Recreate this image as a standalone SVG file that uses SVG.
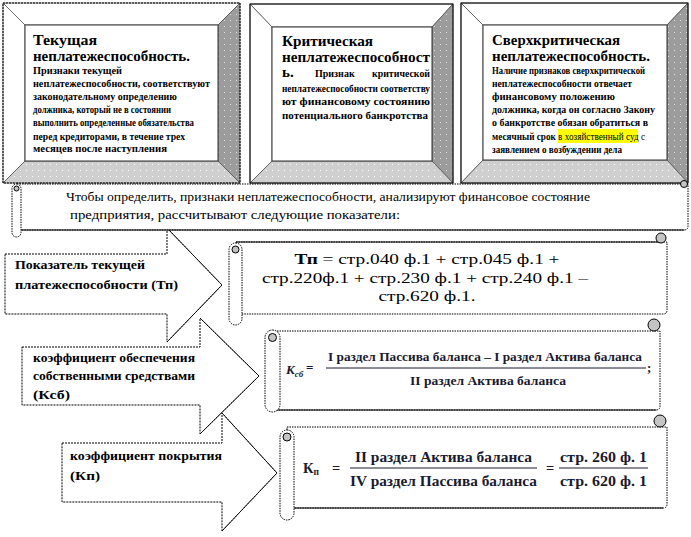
<svg xmlns="http://www.w3.org/2000/svg" width="691" height="537" viewBox="0 0 691 537">
<defs>
<pattern id="dl" width="6" height="6" patternUnits="userSpaceOnUse"><rect width="6" height="6" fill="#cfcfcf"/><rect x="2" y="2" width="1" height="1" fill="#fff"/></pattern>
<pattern id="dd" width="6" height="6" patternUnits="userSpaceOnUse"><rect width="6" height="6" fill="#9c9c9c"/><rect x="2" y="2" width="1" height="1" fill="#e0e0e0"/></pattern>
<style>
text{font-family:"Liberation Serif","Times New Roman",serif;fill:#000}
.t{font-size:15px;font-weight:bold}
.b{font-size:10px;font-weight:bold}
.lt{fill:#fff;stroke:#555;stroke-width:0.8}
.rt{fill:url(#dd);stroke:#555;stroke-width:0.8}
.bt{fill:url(#dl);stroke:#555;stroke-width:0.8}
.in{fill:#fff;stroke:#333;stroke-width:1}
.out{fill:none;stroke:#000;stroke-width:1}
.arr{fill:#fff;stroke:#000;stroke-width:1;stroke-dasharray:2,1}
.sd{fill:#fff;stroke:#000;stroke-width:1;stroke-dasharray:1.5,1}
.cu{fill:#c4c4c4;stroke:#000;stroke-width:1}
.at{font-size:12px;font-weight:bold}
.f{font-size:13px;font-weight:bold;fill:#1a1a30}
.g{font-size:14.5px;fill:#1a1a30;font-weight:bold}
</style>
</defs>

<g id="box1">
<polygon class="lt" points="3,3 240,3 218,25 25,25"/>
<polygon class="lt" points="3,3 25,25 25,161 3,183"/>
<polygon class="rt" points="240,3 240,183 218,161 218,25"/>
<polygon class="bt" points="3,183 25,161 218,161 240,183"/>
<rect class="in" x="25" y="25" width="193" height="136"/>
<rect class="out" x="3" y="3" width="237" height="180" stroke-dasharray="2,1"/>
<text class="t" x="33" y="45" textLength="64" lengthAdjust="spacingAndGlyphs">Текущая</text>
<text class="t" x="33" y="61" textLength="157" lengthAdjust="spacingAndGlyphs">неплатежеспособность.</text>
<text class="b" x="33" y="74" textLength="89" lengthAdjust="spacingAndGlyphs">Признаки текущей</text>
<text class="b" x="33" y="87" textLength="177" lengthAdjust="spacingAndGlyphs">неплатежеспособности, соответствуют</text>
<text class="b" x="33" y="100" textLength="144" lengthAdjust="spacingAndGlyphs">законодательному определению</text>
<text class="b" x="33" y="113" textLength="138" lengthAdjust="spacingAndGlyphs">должника, который не в состоянии</text>
<text class="b" x="33" y="126" textLength="161" lengthAdjust="spacingAndGlyphs">выполнить определенные обязательства</text>
<text class="b" x="33" y="140" textLength="152" lengthAdjust="spacingAndGlyphs">перед кредиторами, в течение трех</text>
<text class="b" x="33" y="152" textLength="134" lengthAdjust="spacingAndGlyphs">месяцев после наступления</text>
</g>

<g id="box2">
<polygon class="lt" points="250,4 453,4 432,27 272,27"/>
<polygon class="lt" points="250,4 272,27 272,161 250,183"/>
<polygon class="rt" points="453,4 453,183 432,161 432,27"/>
<polygon class="bt" points="250,183 272,161 432,161 453,183"/>
<rect class="in" x="272" y="27" width="160" height="134"/>
<rect class="out" x="250" y="4" width="203" height="179"/>
<text class="t" x="282" y="46" textLength="91" lengthAdjust="spacingAndGlyphs">Критическая</text>
<text class="t" x="282" y="62" textLength="148" lengthAdjust="spacingAndGlyphs">неплатежеспособност</text>
<text class="t" x="282" y="77" font-size="13">ь.</text>
<text class="b" x="315" y="77">Признак</text>
<text class="b" x="372" y="77" textLength="58" lengthAdjust="spacingAndGlyphs">критической</text>
<text class="b" x="282" y="92" textLength="148" lengthAdjust="spacingAndGlyphs">неплатежеспособности соответству</text>
<text class="b" x="282" y="105" textLength="148" lengthAdjust="spacingAndGlyphs">ют  финансовому  состоянию</text>
<text class="b" x="282" y="119" textLength="146" lengthAdjust="spacingAndGlyphs">потенциального банкротства</text>
</g>

<g id="box3">
<polygon class="lt" points="461,3 688,3 667,25 483,25"/>
<polygon class="lt" points="461,3 483,25 483,160 461,183"/>
<polygon class="rt" points="688,3 688,183 667,160 667,25"/>
<polygon class="bt" points="461,183 483,160 667,160 688,183"/>
<rect class="in" x="483" y="25" width="184" height="135"/>
<rect class="out" x="461" y="3" width="227" height="180"/>
<text class="t" x="492" y="45" textLength="128" lengthAdjust="spacingAndGlyphs">Сверхкритическая</text>
<text class="t" x="492" y="61" textLength="158" lengthAdjust="spacingAndGlyphs">неплатежеспособность.</text>
<text class="b" x="492" y="74" textLength="153" lengthAdjust="spacingAndGlyphs">Наличие признаков сверхкритической</text>
<text class="b" x="492" y="87" textLength="140" lengthAdjust="spacingAndGlyphs">неплатежеспособности  отвечает</text>
<text class="b" x="492" y="100" textLength="123" lengthAdjust="spacingAndGlyphs">финансовому положению</text>
<text class="b" x="492" y="113" textLength="163" lengthAdjust="spacingAndGlyphs">должника,  когда он согласно Закону</text>
<text class="b" x="492" y="126" textLength="156" lengthAdjust="spacingAndGlyphs">о банкротстве обязан обратиться в</text>
<rect x="558" y="129" width="80" height="14" fill="#ffff00"/>
<text class="b" x="492" y="140" textLength="153" lengthAdjust="spacingAndGlyphs">месячный срок <tspan font-weight="normal">в хозяйственный суд с</tspan></text>
<text class="b" x="492" y="153" textLength="130" lengthAdjust="spacingAndGlyphs">заявлением о возбуждении дела</text>
</g>

<g id="arrows">
<g id="arrow1">
<polygon class="arr" points="5,254 167,254 167,228 222,285 167,342 167,314 5,314"/>
<polyline points="167,228 222,285 167,342" fill="none" stroke="#000" stroke-width="0.8"/>
<text class="at" x="15" y="269" textLength="130" lengthAdjust="spacingAndGlyphs">Показатель текущей</text>
<text class="at" x="15" y="289" textLength="163" lengthAdjust="spacingAndGlyphs">платежеспособности (Тп)</text>
</g>
<g id="arrow2">
<polygon class="arr" points="22,347 200,347 200,318 259,376 200,434 200,405 22,405"/>
<polyline points="200,318 259,376 200,434" fill="none" stroke="#000" stroke-width="0.8"/>
<text class="at" x="33" y="362" textLength="162" lengthAdjust="spacingAndGlyphs">коэффициент   обеспечения</text>
<text class="at" x="33" y="380" textLength="162" lengthAdjust="spacingAndGlyphs">собственными средствами</text>
<text class="at" x="33" y="399" textLength="37" lengthAdjust="spacingAndGlyphs">(Ксб)</text>
</g>
<g id="arrow3">
<polygon class="arr" points="62,443 222,443 222,413 277,473 222,531 222,502 62,502"/>
<polyline points="222,413 277,473 222,531" fill="none" stroke="#000" stroke-width="0.8"/>
<text class="at" x="70" y="460" textLength="152" lengthAdjust="spacingAndGlyphs">коэффициент   покрытия</text>
<text class="at" x="70" y="480" textLength="30" lengthAdjust="spacingAndGlyphs">(Кп)</text>
</g>
</g>

<g id="scroll1">
<path class="sd" d="M17,184 L688,184 L688,226 Q688,230 684,230 L17,230 Z"/>
<line x1="17" y1="230" x2="684" y2="230" stroke="#000" stroke-width="1"/>
<rect class="sd" x="12" y="184" width="9" height="53" rx="4.5"/>
<circle class="cu" cx="16.5" cy="188.5" r="2.5"/>
<circle class="cu" cx="684" cy="184" r="3.5"/>
<text x="66" y="201" font-size="13.5" textLength="524" lengthAdjust="spacingAndGlyphs">Чтобы определить, признаки неплатежеспособности, анализируют финансовое  состояние</text>
<text x="70" y="219" font-size="13.5" textLength="330" lengthAdjust="spacingAndGlyphs">предприятия,  рассчитывают следующие показатели:</text>
</g>

<g id="scroll2">
<path class="sd" d="M236,242 L667,242 L667,310 Q667,314 663,314 L236,314 Z"/>
<line x1="236" y1="242" x2="661" y2="242" stroke="#000"/>
<rect class="sd" x="229" y="243" width="13" height="82" rx="6.5"/>
<circle class="cu" cx="235.5" cy="249.5" r="3.5"/>
<circle class="cu" cx="661" cy="238" r="5"/>
<text x="427" y="264" font-size="15.5" text-anchor="middle" textLength="265" lengthAdjust="spacingAndGlyphs"><tspan font-weight="bold">Тп</tspan> = стр.040 ф.1 + стр.045 ф.1 +</text>
<text x="425" y="283" font-size="15.5" text-anchor="middle" textLength="326" lengthAdjust="spacingAndGlyphs">стр.220ф.1 + стр.230 ф.1 + стр.240 ф.1 –</text>
<text x="427" y="301" font-size="15.5" text-anchor="middle" textLength="97" lengthAdjust="spacingAndGlyphs">стр.620 ф.1.</text>
</g>

<g id="scroll3">
<path class="sd" d="M272,331 L660,331 L660,406 Q660,410 656,410 L272,410 Z"/>
<line x1="272" y1="410" x2="656" y2="410" stroke="#000"/>
<rect class="sd" x="265" y="330" width="15" height="82" rx="7.5"/>
<circle class="cu" cx="272.5" cy="337.5" r="4"/>
<circle class="cu" cx="654" cy="325" r="6"/>
<text class="f" x="286" y="374" font-style="italic">К<tspan font-size="9" dy="3">сб</tspan></text>
<text class="f" x="306" y="372">=</text>
<text class="f" x="328" y="361" textLength="314" lengthAdjust="spacingAndGlyphs">I раздел Пассива баланса – I раздел Актива баланса</text>
<line x1="326" y1="368" x2="646" y2="368" stroke="#1a1a30" stroke-width="1"/>
<text class="f" x="410" y="385" textLength="156" lengthAdjust="spacingAndGlyphs">II раздел Актива баланса</text>
<text class="f" x="647" y="372">;</text>
</g>

<g id="scroll4">
<path class="sd" d="M287,427 L667,427 L667,504 Q667,508 663,508 L287,508 Z"/>
<line x1="287" y1="508" x2="663" y2="508" stroke="#000"/>
<rect class="sd" x="280" y="430" width="14" height="90" rx="7"/>
<circle class="cu" cx="287" cy="437" r="4"/>
<circle class="cu" cx="660" cy="421" r="6"/>
<text class="g" x="303" y="473">К<tspan font-size="9.5" dy="2">п</tspan></text>
<text class="g" x="332" y="473">=</text>
<text class="g" x="355" y="462" textLength="177" lengthAdjust="spacingAndGlyphs">II раздел Актива баланса</text>
<line x1="350" y1="468" x2="537" y2="468" stroke="#1a1a30" stroke-width="1"/>
<text class="g" x="350" y="486" textLength="187" lengthAdjust="spacingAndGlyphs">IV раздел Пассива баланса</text>
<text class="g" x="546" y="473">=</text>
<text class="g" x="560" y="462" textLength="87" lengthAdjust="spacingAndGlyphs">стр. 260 ф. 1</text>
<line x1="559" y1="468" x2="648" y2="468" stroke="#1a1a30" stroke-width="1"/>
<text class="g" x="560" y="486" textLength="87" lengthAdjust="spacingAndGlyphs">стр. 620 ф. 1</text>
</g>
</svg>
